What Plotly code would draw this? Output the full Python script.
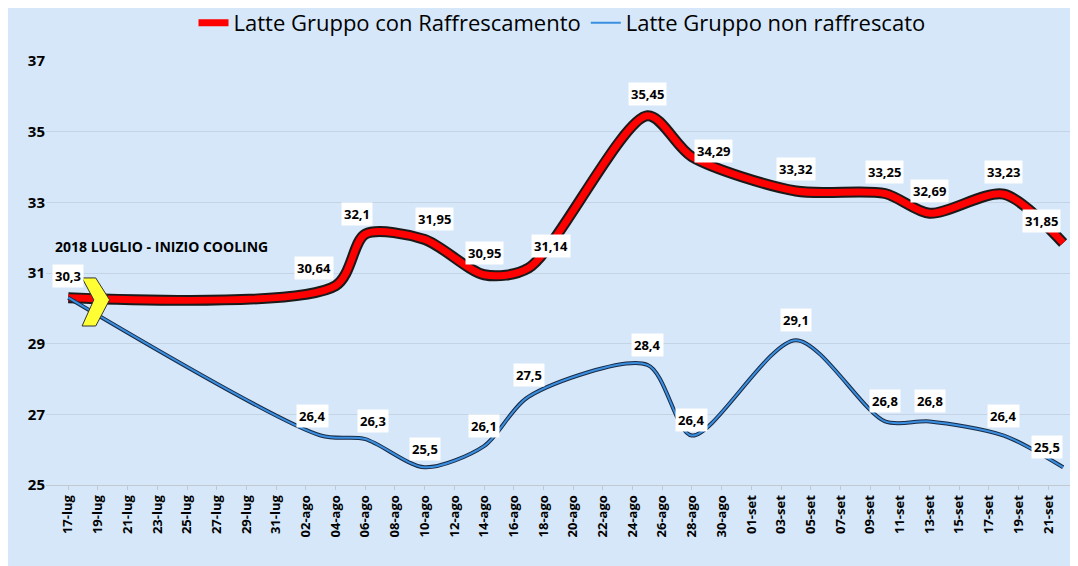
import pandas as pd
import plotly.graph_objects as go

# data points (date, value)
red_dates = ['2018-07-17', '2018-08-04', '2018-08-06', '2018-08-10', '2018-08-14', '2018-08-17',
             '2018-08-25', '2018-08-28', '2018-09-04', '2018-09-10', '2018-09-13', '2018-09-18', '2018-09-22']
red_vals = [30.3, 30.64, 32.1, 31.95, 30.95, 31.14, 35.45, 34.29, 33.32, 33.25, 32.69, 33.23, 31.85]
red_text = ['30,3', '30,64', '32,1', '31,95', '30,95', '31,14', '35,45', '34,29', '33,32', '33,25', '32,69', '33,23', '31,85']

blue_dates = ['2018-07-17', '2018-08-03', '2018-08-06', '2018-08-10', '2018-08-14', '2018-08-17',
              '2018-08-25', '2018-08-28', '2018-09-04', '2018-09-10', '2018-09-13', '2018-09-18', '2018-09-22']
blue_vals = [30.3, 26.4, 26.3, 25.5, 26.1, 27.5, 28.4, 26.4, 29.1, 26.8, 26.8, 26.4, 25.5]
blue_text = ['', '26,4', '26,3', '25,5', '26,1', '27,5', '28,4', '26,4', '29,1', '26,8', '26,8', '26,4', '25,5']

months = {7: 'lug', 8: 'ago', 9: 'set'}
tick_dates = pd.date_range('2018-07-17', '2018-09-21', freq='2D')
tick_text = [f'{d.day:02d}-{months[d.month]}' for d in tick_dates]

# label offsets (pixels) -- style only
red_shift = [(0, 22), (-22, 18), (-8, 20), (10, 20), (0, 22), (22, 22), (0, 22), (22, 6), (0, 22), (0, 22), (0, 22), (0, 22), (-22, 22)]
blue_shift = [(0, 0), (-8, 20), (8, 18), (0, 18), (0, 20), (0, 22), (0, 20), (0, 16), (0, 20), (0, 20), (0, 20), (0, 20), (-16, 20)]

font = 'Open Sans'
fig = go.Figure()

fig.add_trace(go.Scatter(x=red_dates, y=red_vals, mode='lines', showlegend=False, hoverinfo='skip',
                         line=dict(color='#1a1a1a', width=11, shape='spline', smoothing=0.8)))
fig.add_trace(go.Scatter(x=red_dates, y=red_vals, mode='lines', name='Latte Gruppo con Raffrescamento',
                         line=dict(color='#ff0000', width=7, shape='spline', smoothing=0.8)))
fig.add_trace(go.Scatter(x=blue_dates, y=blue_vals, mode='lines', showlegend=False, hoverinfo='skip',
                         line=dict(color='#1a2a44', width=4, shape='spline', smoothing=0.8)))
fig.add_trace(go.Scatter(x=blue_dates, y=blue_vals, mode='lines', name='Latte Gruppo non raffrescato',
                         line=dict(color='#3a8fe0', width=2, shape='spline', smoothing=0.8)))

# yellow chevron
t0 = pd.Timestamp('2018-07-17')
cx = [t0 + pd.Timedelta(days=d) for d in [0.93, 1.85, 2.78, 1.85, 0.93, 1.72, 0.93]]
cy = [30.86, 30.86, 30.24, 29.5, 29.5, 30.24, 30.86]
fig.add_trace(go.Scatter(x=cx, y=cy, mode='lines', fill='toself', fillcolor='#ffff33',
                         line=dict(color='#333', width=1), showlegend=False, hoverinfo='skip'))

for x, y, t, (ax, ay) in zip(red_dates, red_vals, red_text, red_shift):
    fig.add_annotation(x=x, y=y, text=f'<b>{t}</b>', showarrow=False, xshift=ax, yshift=ay,
                       bgcolor='white', font=dict(size=13, color='black', family=font), borderpad=2)
for x, y, t, (ax, ay) in zip(blue_dates, blue_vals, blue_text, blue_shift):
    if t:
        fig.add_annotation(x=x, y=y, text=f'<b>{t}</b>', showarrow=False, xshift=ax, yshift=ay,
                           bgcolor='white', font=dict(size=13, color='black', family=font), borderpad=2)

fig.add_annotation(x='2018-07-16', y=31.75, xanchor='left', text='<b>2018 LUGLIO - INIZIO COOLING</b>',
                   showarrow=False, font=dict(size=14, color='black', family=font))

fig.update_layout(
    width=1078, height=566,
    paper_bgcolor='#d5e7f9', plot_bgcolor='#d5e7f9',
    margin=dict(l=38, r=8, t=53, b=89, autoexpand=False),
    font=dict(family=font, color='black'),
    legend=dict(orientation='h', x=0.5, xanchor='center', y=1.04, yanchor='bottom',
                font=dict(size=22), bgcolor='rgba(0,0,0,0)'),
)
fig.update_xaxes(range=['2018-07-15 12:00', '2018-09-23'], tickvals=tick_dates,
                 ticktext=['<b>%s</b>' % t for t in tick_text],
                 tickangle=-90, tickfont=dict(size=13, family=font), showgrid=False,
                 showline=True, linecolor='#c0c8d0', ticks='outside', ticklen=4, tickcolor='#c0c8d0')
fig.update_yaxes(range=[25, 37], tickvals=list(range(25, 38, 2)),
                 ticktext=['<b>%d</b>' % v for v in range(25, 38, 2)],
                 gridcolor='#c4d4e4', zeroline=False, tickfont=dict(size=15, family=font))

fig.write_html('out.html')
